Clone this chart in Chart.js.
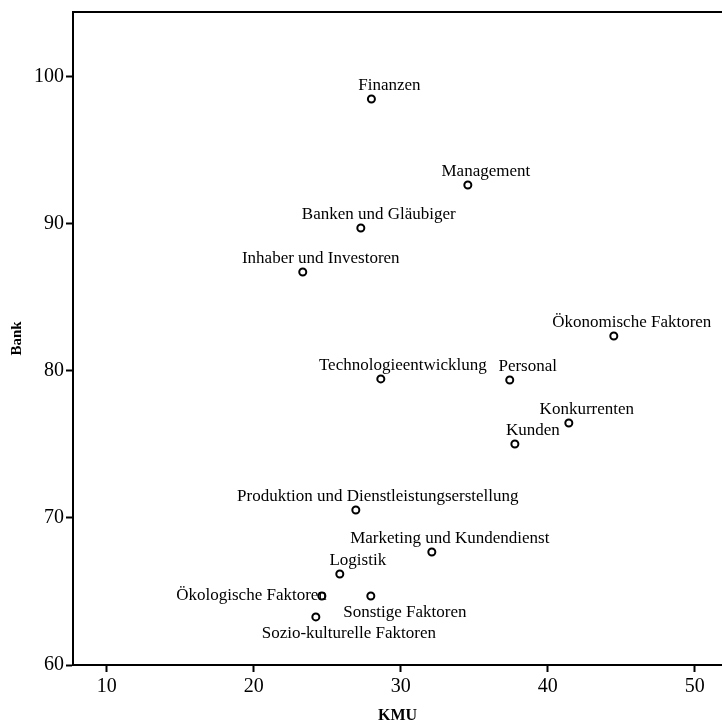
<!DOCTYPE html>
<html lang="de">

<head>
    <meta charset="UTF-8">
    <script src="https://cdn.jsdelivr.net/npm/chart.js@4.4.0/dist/chart.umd.min.js"></script>
    <title>KMU Bank</title>
    <style>
        html, body { margin: 0; padding: 0; background: #fff; }
        #wrap { width: 722px; height: 722px; }
    </style>
</head>

<body>
    <div id="wrap"><canvas id="chart"></canvas></div>
</body>

<script>
    // Werte
    const factors = [
        'Finanzen', 'Management', 'Banken und Gläubiger', 'Inhaber und Investoren',
        'Ökonomische Faktoren', 'Technologieentwicklung', 'Personal', 'Konkurrenten',
        'Kunden', 'Produktion und Dienstleistungserstellung', 'Marketing und Kundendienst',
        'Logistik', 'Ökologische Faktoren', 'Sonstige Faktoren', 'Sozio-kulturelle Faktoren'
    ];
    const kmu = [28.0, 34.56, 27.28, 23.33, 44.49, 28.64, 37.41, 41.43, 37.76, 26.94, 32.11, 25.85, 24.63, 27.96, 24.22];
    const bank = [98.5, 92.65, 89.73, 86.73, 82.38, 79.46, 79.39, 76.46, 75.03, 70.54, 67.69, 66.19, 64.69, 64.69, 63.27];
    const xTicks = [10, 20, 30, 40, 50];
    const yTicks = [60, 70, 80, 90, 100];

    // wo die Beschriftung neben dem Punkt steht
    const labelPos = {
        'Technologieentwicklung': { dx: 22, dy: -9 },
        'Produktion und Dienstleistungserstellung': { dx: 22, dy: -9 },
        'Ökologische Faktoren': { dx: 5, dy: 4, align: 'right' },
        'Sonstige Faktoren': { dx: 34, dy: 21 },
        'Sozio-kulturelle Faktoren': { dx: 33, dy: 21 }
    };

    const pointLabels = {
        id: 'pointLabels',
        afterDatasetsDraw(chart) {
            const ctx = chart.ctx;
            const meta = chart.getDatasetMeta(0);
            ctx.save();
            ctx.font = '17px "Liberation Serif", "Times New Roman", serif';
            ctx.fillStyle = '#000';
            ctx.textBaseline = 'alphabetic';
            meta.data.forEach(function (pt, i) {
                let p = labelPos[factors[i]] || { dx: 18, dy: -9 };
                ctx.textAlign = p.align || 'center';
                ctx.fillText(factors[i], pt.x + p.dx, pt.y + p.dy);
            });
            ctx.restore();
        }
    };

    const topLine = {
        id: 'topLine',
        afterDraw(chart) {
            const a = chart.chartArea;
            const ctx = chart.ctx;
            ctx.save();
            ctx.strokeStyle = '#000';
            ctx.lineWidth = 2;
            ctx.beginPath();
            ctx.moveTo(a.left - 1, a.top);
            ctx.lineTo(a.right, a.top);
            ctx.stroke();
            ctx.restore();
        }
    };

    const points = kmu.map(function (v, i) { return { x: v, y: bank[i] }; });

    new Chart(document.getElementById('chart'), {
        type: 'scatter',
        data: {
            datasets: [{
                data: points,
                pointRadius: 3.5,
                pointHoverRadius: 3.5,
                pointBorderWidth: 2,
                pointBorderColor: '#000',
                pointBackgroundColor: '#fff'
            }]
        },
        options: {
            responsive: true,
            maintainAspectRatio: false,
            animation: false,
            layout: { autoPadding: false, padding: { top: 12, right: 0, bottom: 0, left: 0 } },
            plugins: {
                legend: { display: false },
                tooltip: { enabled: false }
            },
            scales: {
                x: {
                    type: 'linear',
                    min: 7.7,
                    max: 51.85,
                    afterBuildTicks: function (s) { s.ticks = xTicks.map(function (v) { return { value: v }; }); },
                    afterFit: function (s) { s.height = 57; s.paddingLeft = 0; s.paddingRight = 0; },
                    grid: { drawOnChartArea: false, drawTicks: true, tickLength: 7, tickWidth: 2, tickColor: '#000' },
                    border: { display: true, color: '#000', width: 2 },
                    ticks: {
                        color: '#000',
                        padding: 3,
                        maxRotation: 0,
                        font: { family: '"Liberation Serif", serif', size: 20 }
                    },
                    title: {
                        display: true,
                        text: 'KMU',
                        color: '#000',
                        padding: { top: 0, bottom: -2 },
                        font: { family: '"Liberation Serif", serif', size: 16, weight: 'bold', lineHeight: 1 }
                    }
                },
                y: {
                    type: 'linear',
                    min: 60,
                    max: 104.42,
                    afterBuildTicks: function (s) { s.ticks = yTicks.map(function (v) { return { value: v }; }); },
                    afterFit: function (s) { s.width = 73; s.paddingTop = 0; s.paddingBottom = 0; },
                    grid: { drawOnChartArea: false, drawTicks: true, tickLength: 7, tickWidth: 2, tickColor: '#000' },
                    border: { display: true, color: '#000', width: 2 },
                    ticks: {
                        color: '#000',
                        padding: 2,
                        font: { family: '"Liberation Serif", serif', size: 20 }
                    },
                    title: {
                        display: true,
                        text: 'Bank',
                        color: '#000',
                        padding: { top: 10, bottom: 0 },
                        font: { family: '"Liberation Serif", serif', size: 15, weight: 'bold', lineHeight: 1 }
                    }
                }
            }
        },
        plugins: [pointLabels, topLine]
    });
</script>

</html>
